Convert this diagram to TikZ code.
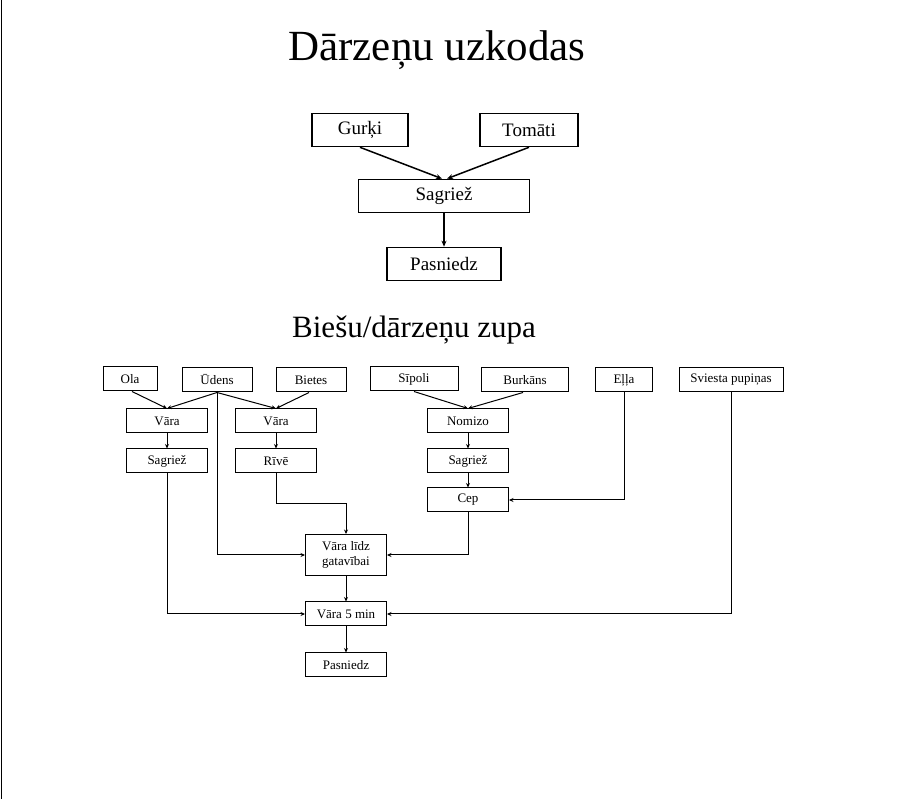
\documentclass[tikz,border=0pt]{standalone}
\usepackage{fontspec}
\setmainfont{Liberation Serif}
\usetikzlibrary{arrows.meta}
\begin{document}
\begin{tikzpicture}[x=1pt,y=-1pt,
  big/.style={draw,line width=1.6pt,minimum height=33pt,inner sep=0pt,font=\fontsize{19}{21}\selectfont},
  sm/.style={draw,line width=1pt,minimum height=24pt,inner sep=0pt,font=\fontsize{13}{15}\selectfont,align=center},
  bar/.style={line width=1.5pt,-{Stealth[length=6pt,width=5pt]}},
  ar/.style={line width=1pt,-{Stealth[length=4.5pt,width=4pt]}}]
\useasboundingbox (0,0) rectangle (898,799);
\draw[line width=0.8pt] (1,0) -- (1,799);
\node (t1) at (437,50) {\fontsize{43}{48}\selectfont Dārzeņu uzkodas};
\node[big,minimum width=96pt] (g) at (360,130) {Gurķi};
\node[big,minimum width=98pt] (to) at (529,130) {Tomāti};
\node[big,minimum width=171pt] (s) at (444,196) {Sagriež};
\node[big,minimum width=114pt] (p) at (444,264) {Pasniedz};
\draw[bar] (g.south) -- ([xshift=-2pt]s.north);
\draw[bar] (to.south) -- ([xshift=3pt]s.north);
\draw[bar] (s) -- (p);
\node (t2) at (414,330) {\fontsize{31}{34}\selectfont Biešu/dārzeņu zupa};
\node[sm,minimum width=54pt] (ola) at (130,379) {Ola};
\node[sm,minimum width=70pt] (ud) at (217,380) {Ūdens};
\node[sm,minimum width=70pt] (bi) at (311,380) {Bietes};
\node[sm,minimum width=88pt] (si) at (414,379) {Sīpoli};
\node[sm,minimum width=87pt] (bu) at (525,380) {Burkāns};
\node[sm,minimum width=57pt] (el) at (624,380) {Eļļa};
\node[sm,minimum width=104pt] (sv) at (731,380) {Sviesta pupiņas};
\node[sm,minimum width=81pt] (v1) at (167,421) {Vāra};
\node[sm,minimum width=81pt] (v2) at (276,421) {Vāra};
\node[sm,minimum width=81pt] (no) at (468,421) {Nomizo};
\node[sm,minimum width=81pt] (s1) at (167,461) {Sagriež};
\node[sm,minimum width=81pt] (ri) at (276,461) {Rīvē};
\node[sm,minimum width=81pt] (s2) at (468,461) {Sagriež};
\node[sm,minimum width=81pt] (ce) at (468,500) {Cep};
\node[sm,minimum width=81pt,minimum height=41pt] (vg) at (346,555) {Vāra līdz\\gatavībai};
\node[sm,minimum width=81pt] (v5) at (346,614) {Vāra 5 min};
\node[sm,minimum width=81pt] (pa) at (346,665) {Pasniedz};
\draw[ar] ([xshift=2pt]ola.south) -- (v1.north);
\draw[ar] (ud.south) -- (v1.north);
\draw[ar] (ud.south) -- (v2.north);
\draw[ar] ([xshift=-2pt]bi.south) -- (v2.north);
\draw[ar] (si.south) -- (no.north);
\draw[ar] ([xshift=-2pt]bu.south) -- (no.north);
\draw[ar] (v1) -- (s1);
\draw[ar] (v2) -- (ri);
\draw[ar] (no) -- (s2);
\draw[ar] (s2) -- (ce);
\draw[ar] (el.south) |- (ce.east);
\draw[ar] (ud.south) |- (vg.west);
\draw[ar] (ri.south) |- (346,504) -- (vg.north);
\draw[ar] (ce.south) |- (vg.east);
\draw[ar] (vg) -- (v5);
\draw[ar] (s1.south) |- (v5.west);
\draw[ar] (sv.south) |- (v5.east);
\draw[ar] (v5) -- (pa);
\end{tikzpicture}
\end{document}
